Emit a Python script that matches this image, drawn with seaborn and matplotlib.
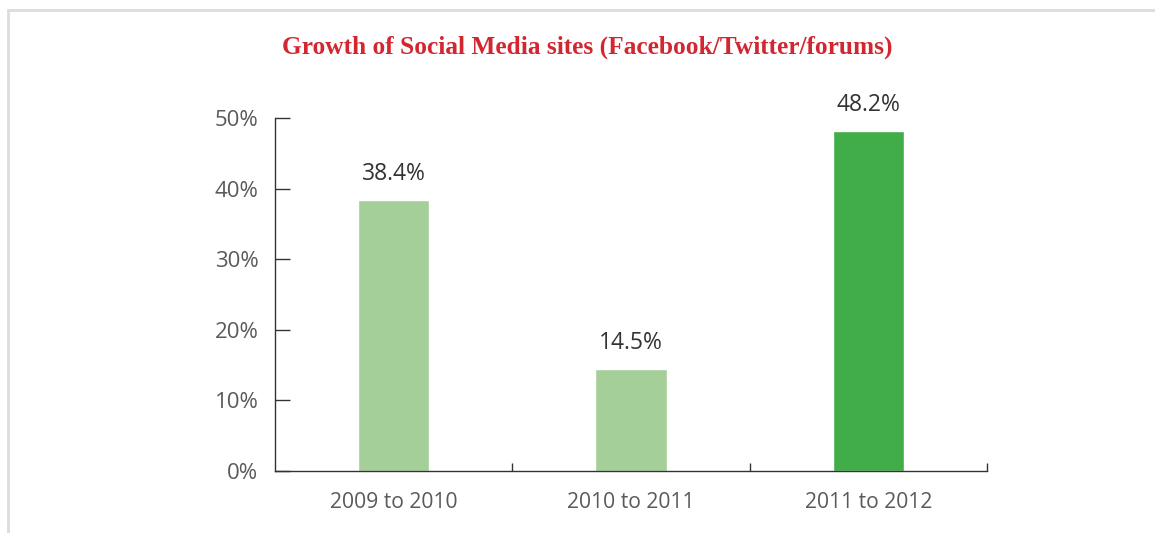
import matplotlib
matplotlib.use("Agg")
import matplotlib.pyplot as plt
from matplotlib.patches import Rectangle
import seaborn as sns

# Year-over-year growth of social media sites
periods = ["2009 to 2010", "2010 to 2011", "2011 to 2012"]
growth = [38.4, 14.5, 48.2]
bar_colors = ["#a5cf98", "#a5cf98", "#40ad48"]
y_ticks = [0, 10, 20, 30, 40, 50]
y_tick_labels = ["0%", "10%", "20%", "30%", "40%", "50%"]
title = "Growth of Social Media sites (Facebook/Twitter/forums)"

sns.set_theme(style="white")
plt.rcParams["font.family"] = ["Open Sans", "DejaVu Sans"]

fig = plt.figure(figsize=(11.55, 5.33), dpi=100)
ax = fig.add_axes([0.2381, 0.1163, 0.6164, 0.6623])

sns.barplot(x=periods, y=growth, hue=periods, palette=bar_colors,
            width=0.3, legend=False, saturation=1, ax=ax)

ax.set_xlim(-0.5, 2.5)
ax.set_ylim(0, 50)
ax.set_xlabel("")
ax.set_ylabel("")

ax.set_yticks(y_ticks)
ax.set_yticklabels(y_tick_labels, va="top")
for lbl in ax.get_yticklabels():
    lbl.set_verticalalignment("center_baseline")
ax.tick_params(axis="y", direction="in", length=11, width=1, color="#333333",
               pad=12, labelsize=16, labelcolor="#5a5a5a", left=True)
ax.tick_params(axis="x", which="major", length=0, pad=15, labelsize=15.2,
               labelcolor="#5a5a5a")
ax.set_xticks([0.5, 1.5, 2.5], minor=True)
ax.tick_params(axis="x", which="minor", direction="in", length=6, width=1,
               color="#333333", bottom=True)

for side in ["top", "right"]:
    ax.spines[side].set_visible(False)
for side in ["left", "bottom"]:
    ax.spines[side].set_color("#333333")
    ax.spines[side].set_linewidth(1)

for i, v in enumerate(growth):
    ax.annotate(f"{v}%", xy=(i, v), xytext=(0, 10), textcoords="offset points",
                ha="center", va="bottom", fontsize=16.5, color="#333333")

fig.text(587 / 1155, 1 - 47 / 533, title, ha="center", va="center",
         fontsize=18.3, fontweight="bold", color="#d22630",
         family=["Liberation Serif", "DejaVu Serif"])

# Light frame around the chart area
fig.patches.append(Rectangle((8 / 1155, -0.1), 1.2, 1 - 10 / 533 + 0.1,
                             transform=fig.transFigure, fill=False,
                             edgecolor="#dcdcdc", linewidth=2))

fig.savefig("out.png", dpi=100)
